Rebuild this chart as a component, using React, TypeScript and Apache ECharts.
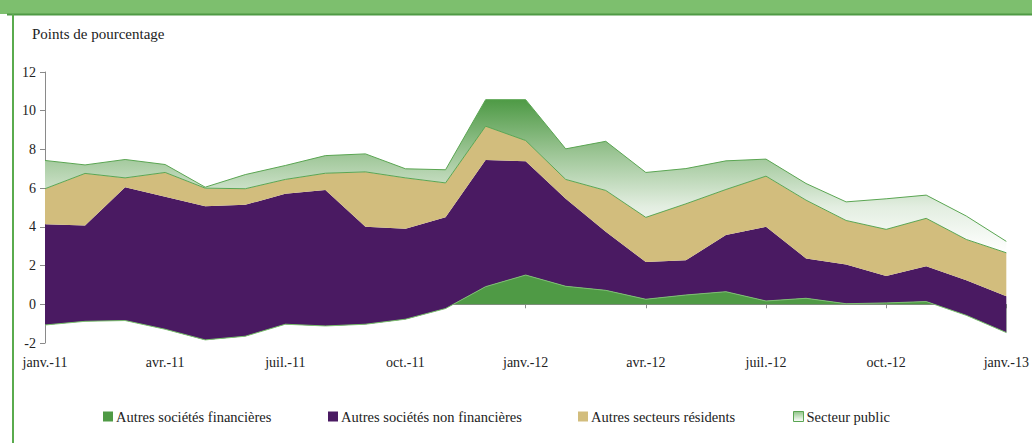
import React, { useEffect, useRef } from "react";
import * as echarts from "echarts";

const categories = [
  "janv.-11", "févr.-11", "mars-11", "avr.-11", "mai-11", "juin-11",
  "juil.-11", "août-11", "sept.-11", "oct.-11", "nov.-11", "déc.-11",
  "janv.-12", "févr.-12", "mars-12", "avr.-12", "mai-12", "juin-12",
  "juil.-12", "août-12", "sept.-12", "oct.-12", "nov.-12", "déc.-12",
  "janv.-13",
];

const financial = [
  -1.07, -0.88, -0.84, -1.29, -1.84, -1.65, -1.03, -1.12, -1.03, -0.77, -0.22, 0.91,
  1.51, 0.93, 0.72, 0.26, 0.48, 0.65, 0.17, 0.31, 0.03, 0.07, 0.14, -0.57, -1.46,
];
const nonFinancial = [
  5.2, 4.95, 6.89, 6.84, 6.91, 6.79, 6.74, 7.02, 5.03, 4.67, 4.72, 6.54,
  5.88, 4.52, 3.03, 1.92, 1.79, 2.93, 3.83, 2.06, 2.02, 1.39, 1.82, 1.81, 1.87,
];
const otherResidents = [
  1.84, 2.69, 0.48, 1.26, 0.93, 0.83, 0.74, 0.87, 2.84, 2.63, 1.77, 1.75,
  1.07, 1.0, 2.13, 2.31, 2.92, 2.35, 2.62, 3.01, 2.28, 2.41, 2.48, 2.11, 2.25,
];
const publicSector = [
  1.46, 0.44, 0.95, 0.41, 0.05, 0.73, 0.72, 0.91, 0.93, 0.47, 0.68, 1.37,
  2.11, 1.58, 2.54, 2.32, 1.82, 1.48, 0.88, 0.86, 0.96, 1.58, 1.2, 1.21, 0.59,
];

const seriesNames = [
  "Autres sociétés financières",
  "Autres sociétés non financières",
  "Autres secteurs résidents",
  "Secteur public",
];

const FONT = "Liberation Serif, DejaVu Serif, serif";
const TEXT = "#222222";
const GREEN = "#4f9a45";
const PURPLE = "#4a1a62";
const TAN = "#d2bd7d";
const EDGE = "#5aa552";

export default function App() {
  const ref = useRef<HTMLDivElement>(null);

  useEffect(() => {
    if (!ref.current) return;
    const chart = echarts.init(ref.current, undefined, { renderer: "svg" });

    const publicGradient = new echarts.graphic.LinearGradient(0, 0, 0, 1, [
      { offset: 0, color: "#4e9a45" },
      { offset: 0.35, color: "#9cc595" },
      { offset: 0.7, color: "#e3eee1" },
      { offset: 1, color: "#ffffff" },
    ]);
    const legendIconGradient = new echarts.graphic.LinearGradient(0, 0, 0, 1, [
      { offset: 0, color: "#8fc487" },
      { offset: 1, color: "#ffffff" },
    ]);

    const mk = (i: number, data: number[], fill: any, line: string, lw: number) => ({
      name: seriesNames[i],
      type: "line",
      stack: "total",
      stackStrategy: "all",
      data,
      xAxisIndex: 0,
      yAxisIndex: 0,
      showSymbol: false,
      symbol: "none",
      smooth: false,
      lineStyle: { color: line, width: lw },
      itemStyle: { color: typeof fill === "string" ? fill : GREEN },
      areaStyle: { color: fill, opacity: 1 },
      emphasis: { disabled: true },
    });

    const legendPos = [103, 328, 578, 793];
    const legendColors = [GREEN, PURPLE, TAN, legendIconGradient];

    chart.setOption({
      animation: false,
      backgroundColor: "#ffffff",
      textStyle: { fontFamily: FONT },
      grid: { left: 45, right: 18, top: 72, bottom: 100, containLabel: false },
      graphic: [
        { type: "rect", shape: { x: 0, y: 0, width: 1032, height: 14 }, style: { fill: "#7dbf6e" }, z: 10 },
        { type: "line", shape: { x1: 7, y1: 14.5, x2: 1032, y2: 14.5 }, style: { stroke: "#4f9a45", lineWidth: 2 }, z: 10 },
        { type: "line", shape: { x1: 13, y1: 14, x2: 13, y2: 443 }, style: { stroke: "#5aab4e", lineWidth: 2 }, z: 10 },
        {
          type: "text",
          x: 32,
          y: 26,
          style: {
            text: "Points de pourcentage",
            fontSize: 15,
            fontFamily: FONT,
            fill: TEXT,
            verticalAlign: "top",
          },
          z: 10,
        },
      ],
      legend: seriesNames.map((n, i) => ({
        data: [
          {
            name: n,
            icon: "rect",
            itemStyle:
              i === 3
                ? { color: legendColors[i], borderColor: EDGE, borderWidth: 1 }
                : { color: legendColors[i], borderWidth: 0 },
          },
        ],
        left: legendPos[i],
        top: 409,
        itemWidth: 10,
        itemHeight: 10,
        selectedMode: false,
        padding: 0,
        textStyle: { fontFamily: FONT, fontSize: 14.5, color: TEXT, padding: [0, 0, 0, -2] },
      })),
      xAxis: [
        {
          type: "category",
          data: categories,
          boundaryGap: false,
          position: "bottom",
          axisLine: { show: true, onZero: true, lineStyle: { color: "#8a8a8a", width: 1 } },
          axisTick: { show: true, interval: 2, length: 4, lineStyle: { color: "#8a8a8a" } },
          axisLabel: { show: false },
          splitLine: { show: false },
        },
        {
          type: "category",
          data: categories,
          boundaryGap: false,
          position: "bottom",
          axisLine: { show: false, onZero: false },
          axisTick: { show: false },
          axisLabel: {
            show: true,
            interval: 2,
            margin: 12,
            fontFamily: FONT,
            fontSize: 14,
            color: TEXT,
            showMinLabel: true,
            showMaxLabel: true,
            hideOverlap: false,
          },
          splitLine: { show: false },
        },
      ],
      yAxis: {
        type: "value",
        min: -2,
        max: 12,
        interval: 2,
        axisLine: { show: true, onZero: false, lineStyle: { color: "#8a8a8a", width: 1 } },
        axisTick: { show: true, length: 5, lineStyle: { color: "#8a8a8a" } },
        axisLabel: { margin: 9, fontFamily: FONT, fontSize: 14, color: TEXT },
        splitLine: { show: false },
      },
      series: [
        mk(0, financial, GREEN, "#7cc070", 1),
        mk(1, nonFinancial, PURPLE, PURPLE, 0),
        mk(2, otherResidents, TAN, EDGE, 1),
        mk(3, publicSector, publicGradient, EDGE, 1),
      ],
    });

    return () => chart.dispose();
  }, []);

  return (
    <div
      ref={ref}
      style={{ position: "absolute", left: 0, top: 0, width: 1032, height: 443 }}
    />
  );
}
